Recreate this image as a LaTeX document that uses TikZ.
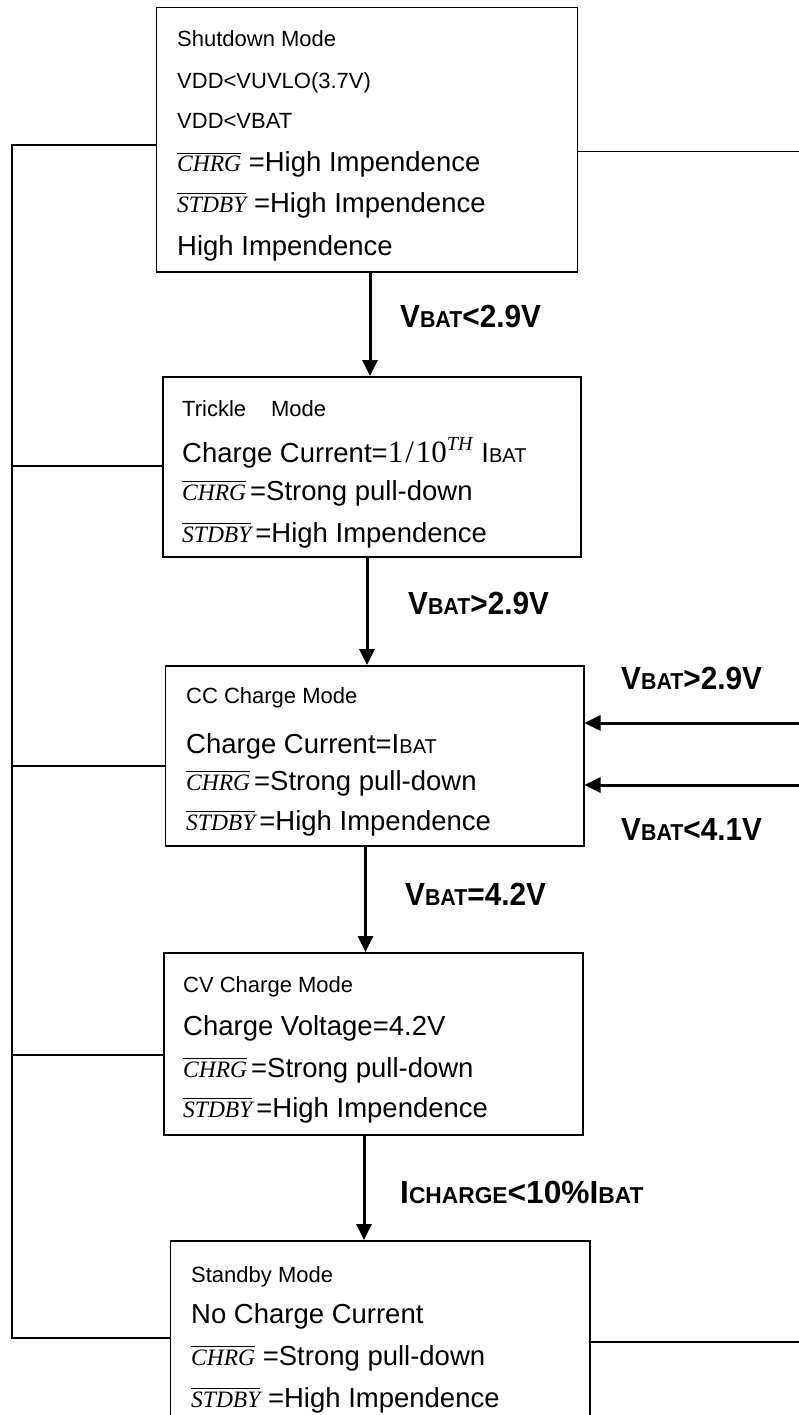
\documentclass[tikz,border=0pt]{standalone}
\usepackage{fontspec}
\setmainfont{Liberation Sans}
\newfontfamily\tms{Liberation Serif}
\newfontfamily\lblf[FakeStretch=0.93]{Liberation Sans}
\newfontfamily\lblg[FakeStretch=0.99]{Liberation Sans}
\usetikzlibrary{arrows.meta}
\newcommand{\bigf}{\fontsize{27.5}{32}\selectfont}
\newcommand{\smf}{\fontsize{22}{26}\selectfont}
\newcommand{\subf}{\fontsize{20}{24}\selectfont}
\newcommand{\ovl}[1]{\leavevmode\vbox{\hrule height 1.1pt\kern2.5pt\hbox{\fontsize{23.5}{27}\tms\itshape #1}}}
\newcommand{\LG}{\fontsize{32}{36}\selectfont}
\newcommand{\LS}{\fontsize{23}{27}\selectfont}
\newcommand{\ibat}{I{\subf BAT}}
\begin{document}
\begin{tikzpicture}[x=1pt,y=-1pt,
  box/.style={draw=black,line width=1.5pt,rectangle,inner sep=0pt,anchor=north west},
  txt/.style={anchor=base west,inner sep=0pt,font=\bigf},
  stxt/.style={anchor=base west,inner sep=0pt,font=\smf},
  lbl/.style={anchor=base west,inner sep=0pt,font=\lblf\bfseries\LG},
  conn/.style={line width=1.6pt},
  arr/.style={line width=3pt,-{Triangle[length=16pt,width=15pt]}}]
\useasboundingbox[fill=white] (0,0) rectangle (798,1415);

% boxes
\node[box,minimum width=421pt,minimum height=264pt] (b1) at (155.5,7) {};
\node[box,minimum width=418pt,minimum height=180pt] (b2) at (162,376) {};
\node[box,minimum width=418.5pt,minimum height=180pt] (b3) at (164.5,665) {};
\node[box,minimum width=419pt,minimum height=182pt] (b4) at (163,952) {};
\node[box,minimum width=419.5pt,minimum height=210pt] (b5) at (169.5,1240) {};

% box 1 text
\node[stxt] (t11) at (177,46.7) {Shutdown Mode};
\node[stxt] (t12) at (177,89) {VDD<VUVLO(3.7V)};
\node[stxt] (t13) at (177,129) {VDD<VBAT};
\node[txt] (t14) at (177,172) {\ovl{CHRG} =High Impendence};
\node[txt] (t15) at (177,212.5) {\ovl{STDBY} =High Impendence};
\node[txt] (t16) at (177,255) {High Impendence};

% box 2 text
\node[stxt] (t21) at (182,416) {Trickle\kern25pt Mode};
\node[txt] (t22) at (182,462) {Charge Current={\tms\fontsize{31}{34}\selectfont 1\kern2pt/\kern2pt10\raisebox{12pt}{\fontsize{20}{22}\selectfont\itshape TH}}\kern9pt\ibat};
\node[txt] (t23) at (182,500) {\ovl{CHRG}\kern4pt=Strong pull-down};
\node[txt] (t24) at (182,542) {\ovl{STDBY}\kern4pt=High Impendence};

% box 3 text
\node[stxt] (t31) at (186,703) {CC Charge Mode};
\node[txt] (t32) at (186,753) {Charge Current=\ibat};
\node[txt] (t33) at (186,790) {\ovl{CHRG}\kern4pt=Strong pull-down};
\node[txt] (t34) at (186,830) {\ovl{STDBY}\kern4pt=High Impendence};

% box 4 text
\node[stxt] (t41) at (183,992) {CV Charge Mode};
\node[txt] (t42) at (183,1035) {Charge Voltage=4.2V};
\node[txt] (t43) at (183,1077) {\ovl{CHRG}\kern4pt=Strong pull-down};
\node[txt] (t44) at (183,1117) {\ovl{STDBY}\kern4pt=High Impendence};

% box 5 text
\node[stxt] (t51) at (191,1282) {Standby Mode};
\node[txt] (t52) at (191,1323) {No Charge Current};
\node[txt] (t53) at (191,1365) {\ovl{CHRG} =Strong pull-down};
\node[txt] (t54) at (191,1407) {\ovl{STDBY} =High Impendence};

% vertical arrows
\coordinate (x1) at (370,0);
\coordinate (x2) at (367,0);
\coordinate (x3) at (365.5,0);
\coordinate (x4) at (364,0);
\draw[arr] (x1 |- b1.south) -- (x1 |- b2.north);
\draw[arr] (x2 |- b2.south) -- (x2 |- b3.north);
\draw[arr] (x3 |- b3.south) -- (x3 |- b4.north);
\draw[arr] (x4 |- b4.south) -- (x4 |- b5.north);

% labels
\node[lbl] (l1) at (400,327) {V{\LS BAT}<2.9V};
\node[lbl] (l2) at (408,614) {V{\LS BAT}>2.9V};
\node[lbl] (l3) at (621,689) {V{\LS BAT}>2.9V};
\node[lbl] (l4) at (621,840) {V{\LS BAT}<4.1V};
\node[lbl] (l5) at (405,905) {V{\LS BAT}=4.2V};
\node[lbl,font=\lblg\bfseries\LG] (l6) at (400,1203) {I{\LS CHARGE}<10\%I{\LS BAT}};

% right side
\coordinate (r0) at (800,151.5);
\coordinate (r1) at (800,723);
\coordinate (r2) at (800,785);
\coordinate (r3) at (800,1342);
\draw[conn] (r0 -| b1.east) -- (r0);
\draw[arr] (r1) -- (r1 -| b3.east);
\draw[arr] (r2) -- (r2 -| b3.east);
\draw[conn] (r3 -| b5.east) -- (r3);

% left bus
\coordinate (lt) at (11.7,145);
\coordinate (lb) at (11.7,1338);
\coordinate (s2) at (11.7,466);
\coordinate (s3) at (11.7,766);
\coordinate (s4) at (11.7,1055);
\draw[conn] (lt -| b1.west) -- (lt) -- (lb) -- (lb -| b5.west);
\draw[conn] (s2) -- (s2 -| b2.west);
\draw[conn] (s3) -- (s3 -| b3.west);
\draw[conn] (s4) -- (s4 -| b4.west);
\end{tikzpicture}
\end{document}
